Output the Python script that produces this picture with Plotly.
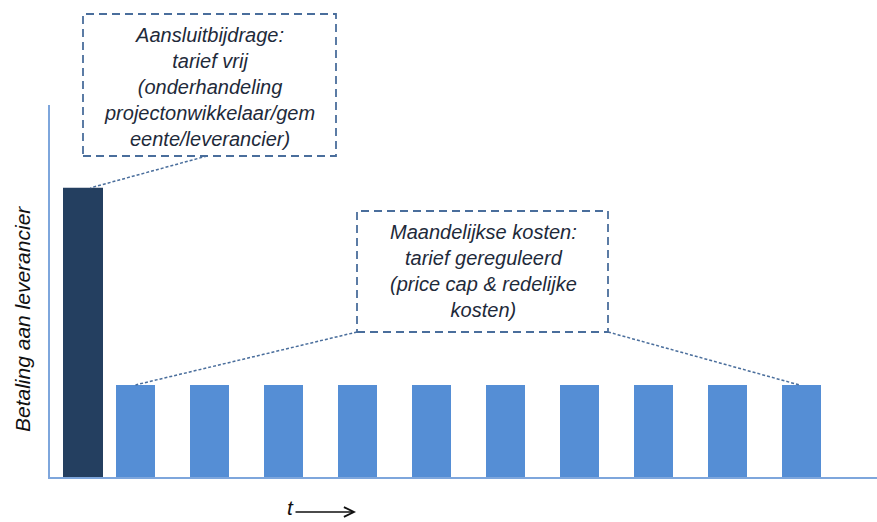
import plotly.graph_objects as go

# ---- data ----
connection_label = ["Aansluitbijdrage"]
connection_value = [3.14]
months = [1, 2, 3, 4, 5, 6, 7, 8, 9, 10]
monthly_values = [1, 1, 1, 1, 1, 1, 1, 1, 1, 1]

box1_text = ("<i>Aansluitbijdrage:<br>tarief vrij<br>(onderhandeling<br>"
             "projectonwikkelaar/gem<br>eente/leverancier)</i>")
box2_text = ("<i>Maandelijkse kosten:<br>tarief gereguleerd<br>"
             "(price cap &amp; redelijke<br>kosten)</i>")
y_title = "<i>Betaling aan leverancier</i>"
x_title = "<i>t</i>"

# ---- layout constants ----
W, H = 877, 522
L, R, T, B = 50, 0, 105, 45
PW, PH = W - L - R, H - T - B
PITCH = 74.0
FIRST_PX = 135.5
XR = [1 + (L - FIRST_PX) / PITCH, 1 + (W - R - FIRST_PX) / PITCH]
YR = [0, 4.04]
DARK_X = 1 + (83 - FIRST_PX) / PITCH

FONT = "Liberation Sans, Arial, sans-serif"
TXT = "#1E2A3A"
BOX = "#4A6E9C"
DARK = "#243F60"
LIGHT = "#558ED5"
AXIS = "#7EA6DC"


def px_paper_x(px):
    return (px - L) / PW


def px_paper_y(py):
    return (H - B - py) / PH


def px_data_x(px):
    return 1 + (px - FIRST_PX) / PITCH


def px_data_y(py):
    return (H - B - py) / PH * (YR[1] - YR[0]) + YR[0]


fig = go.Figure()
fig.add_trace(go.Bar(x=[DARK_X], y=connection_value, width=40 / PITCH,
                     marker=dict(color=DARK, line=dict(width=0)),
                     name=connection_label[0], hoverinfo="skip"))
fig.add_trace(go.Bar(x=months, y=monthly_values, width=39 / PITCH,
                     marker=dict(color=LIGHT, line=dict(width=0)),
                     name="Maand", hoverinfo="skip"))

shapes = []
# dashed boxes (paper coordinates)
for (x0, y0, x1, y1) in [(83, 14, 336, 156), (357, 211, 608, 332)]:
    shapes.append(dict(type="rect", xref="paper", yref="paper",
                       x0=px_paper_x(x0), x1=px_paper_x(x1),
                       y0=px_paper_y(y1), y1=px_paper_y(y0),
                       line=dict(color=BOX, width=1.8, dash="8px,5px"),
                       fillcolor="rgba(0,0,0,0)", layer="above"))

# connectors from boxes to bars (data coordinates)
conn = dict(color=BOX, width=1.5, dash="3px,2px")
shapes.append(dict(type="line", xref="x", yref="y",
                   x0=px_data_x(207), y0=px_data_y(156),
                   x1=DARK_X + 0.1, y1=connection_value[0], line=conn))
shapes.append(dict(type="line", xref="x", yref="y",
                   x0=px_data_x(357), y0=px_data_y(332),
                   x1=months[0], y1=monthly_values[0], line=conn))
shapes.append(dict(type="line", xref="x", yref="y",
                   x0=px_data_x(608), y0=px_data_y(332),
                   x1=months[-1] - 0.03, y1=monthly_values[-1], line=conn))

annotations = [
    dict(text=box1_text, xref="paper", yref="paper",
         x=px_paper_x(209), y=px_paper_y(87), xanchor="center", yanchor="middle",
         showarrow=False, align="center", font=dict(family=FONT, size=20, color=TXT)),
    dict(text=box2_text, xref="paper", yref="paper",
         x=px_paper_x(483), y=px_paper_y(271), xanchor="center", yanchor="middle",
         showarrow=False, align="center", font=dict(family=FONT, size=20, color=TXT)),
    dict(text=y_title, xref="paper", yref="paper", textangle=-90,
         x=px_paper_x(22), y=px_paper_y(319), xanchor="center", yanchor="middle",
         showarrow=False, font=dict(family=FONT, size=21, color="#111111")),
    dict(text=x_title, xref="paper", yref="paper",
         x=px_paper_x(290), y=px_paper_y(507), xanchor="center", yanchor="middle",
         showarrow=False, font=dict(family=FONT, size=21, color="#111111")),
    dict(text="", xref="paper", yref="paper",
         x=px_paper_x(356), y=px_paper_y(512), ax=-62, ay=0,
         axref="pixel", ayref="pixel", showarrow=True,
         arrowhead=5, arrowsize=1.5, arrowwidth=1.3, arrowcolor="#111111"),
]

fig.update_layout(
    width=W, height=H,
    margin=dict(l=L, r=R, t=T, b=B, pad=0),
    paper_bgcolor="white", plot_bgcolor="white",
    showlegend=False,
    shapes=shapes, annotations=annotations,
    xaxis=dict(range=XR, showgrid=False, zeroline=False, showticklabels=False,
               ticks="", showline=True, linecolor=AXIS, linewidth=2, fixedrange=True),
    yaxis=dict(range=YR, showgrid=False, zeroline=False, showticklabels=False,
               ticks="", showline=True, linecolor=AXIS, linewidth=2, fixedrange=True),
)

fig.write_html("out.html", config={"displayModeBar": False},
               post_script="document.body.style.margin='0px';"
                           "document.body.style.overflow='hidden';")
